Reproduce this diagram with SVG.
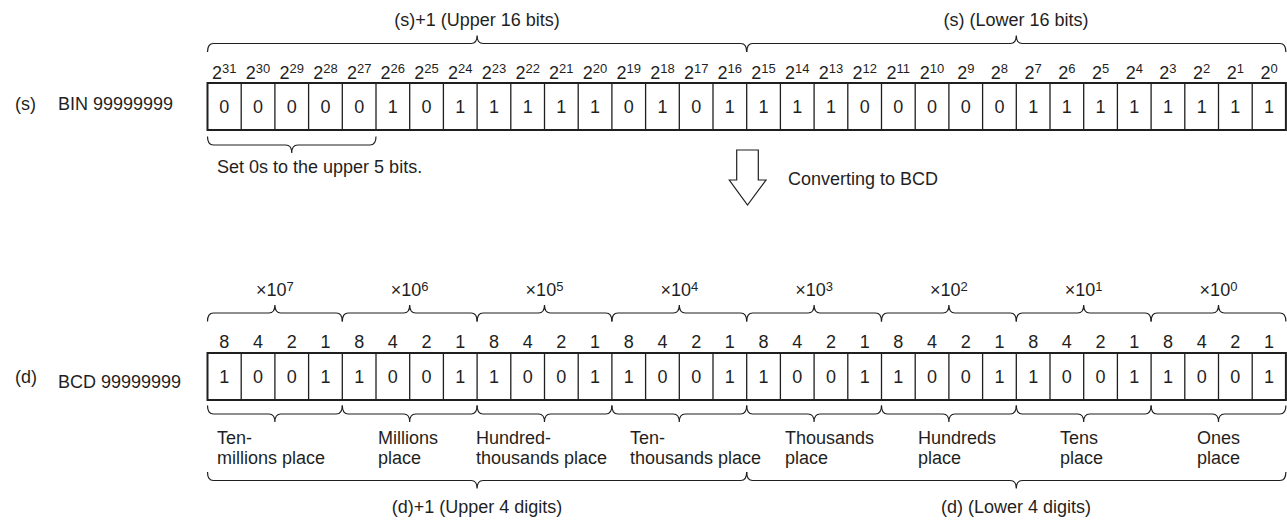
<svg xmlns="http://www.w3.org/2000/svg" xmlns:xlink="http://www.w3.org/1999/xlink" width="1287" height="520" viewBox="0 0 1287 520">
<style>
.t{font-family:"Liberation Sans",Arial,sans-serif;font-size:18px;fill:#1f1f1f}
.c{text-anchor:middle}
.s{font-size:13px}
.cell{fill:none;stroke:#1f1f1f;stroke-width:1.3}
.box{fill:none;stroke:#1f1f1f;stroke-width:2}
.br{fill:none;stroke:#1f1f1f;stroke-width:1.2}
</style>
<defs>
<path id="div" d="M241.2 0V47M274.9 0V47M308.6 0V47M342.3 0V47M376 0V47M409.7 0V47M443.4 0V47M477.1 0V47M510.8 0V47M544.5 0V47M578.2 0V47M611.9 0V47M645.6 0V47M679.3 0V47M713 0V47M746.7 0V47M780.4 0V47M814.1 0V47M847.8 0V47M881.5 0V47M915.2 0V47M948.9 0V47M982.6 0V47M1016.3 0V47M1050 0V47M1083.7 0V47M1117.4 0V47M1151.1 0V47M1184.8 0V47M1218.5 0V47M1252.2 0V47"/>
<path id="b4" d="M0 8.5Q0 0 6 0H61.4Q67.4 0 67.4 -8Q67.4 0 73.4 0H128.8Q134.8 0 134.8 8.5"/>
<path id="b16" d="M0 8.5Q0 0 6 0H263.6Q269.6 0 269.6 -8Q269.6 0 275.6 0H533.2Q539.2 0 539.2 8.5"/>
<path id="b5" d="M0 8.5Q0 0 6 0H78.25Q84.25 0 84.25 -8Q84.25 0 90.25 0H162.5Q168.5 0 168.5 8.5"/>
</defs>

<g id="labels-left" class="t">
<text x="15" y="110">(s)</text>
<text x="58" y="110">BIN 99999999</text>
<text x="15" y="383">(d)</text>
<text x="58" y="388">BCD 99999999</text>
</g>

<g id="src-word-labels" class="t c">
<text x="477" y="26">(s)+1 (Upper 16 bits)</text>
<text x="1016" y="26">(s) (Lower 16 bits)</text>
</g>

<g id="src-braces" class="br">
<use xlink:href="#b16" transform="translate(207.5,43.5)"/>
<use xlink:href="#b16" transform="translate(746.7,43.5)"/>
<use xlink:href="#b5" transform="translate(207.5,145) scale(1,-1)"/>
</g>

<g id="src-bit-weights" class="t c">
<text x="224.35" y="79">2<tspan class="s" dy="-6">31</tspan></text>
<text x="258.05" y="79">2<tspan class="s" dy="-6">30</tspan></text>
<text x="291.75" y="79">2<tspan class="s" dy="-6">29</tspan></text>
<text x="325.45" y="79">2<tspan class="s" dy="-6">28</tspan></text>
<text x="359.15" y="79">2<tspan class="s" dy="-6">27</tspan></text>
<text x="392.85" y="79">2<tspan class="s" dy="-6">26</tspan></text>
<text x="426.55" y="79">2<tspan class="s" dy="-6">25</tspan></text>
<text x="460.25" y="79">2<tspan class="s" dy="-6">24</tspan></text>
<text x="493.95" y="79">2<tspan class="s" dy="-6">23</tspan></text>
<text x="527.65" y="79">2<tspan class="s" dy="-6">22</tspan></text>
<text x="561.35" y="79">2<tspan class="s" dy="-6">21</tspan></text>
<text x="595.05" y="79">2<tspan class="s" dy="-6">20</tspan></text>
<text x="628.75" y="79">2<tspan class="s" dy="-6">19</tspan></text>
<text x="662.45" y="79">2<tspan class="s" dy="-6">18</tspan></text>
<text x="696.15" y="79">2<tspan class="s" dy="-6">17</tspan></text>
<text x="729.85" y="79">2<tspan class="s" dy="-6">16</tspan></text>
<text x="763.55" y="79">2<tspan class="s" dy="-6">15</tspan></text>
<text x="797.25" y="79">2<tspan class="s" dy="-6">14</tspan></text>
<text x="830.95" y="79">2<tspan class="s" dy="-6">13</tspan></text>
<text x="864.65" y="79">2<tspan class="s" dy="-6">12</tspan></text>
<text x="898.35" y="79">2<tspan class="s" dy="-6">11</tspan></text>
<text x="932.05" y="79">2<tspan class="s" dy="-6">10</tspan></text>
<text x="965.75" y="79">2<tspan class="s" dy="-6">9</tspan></text>
<text x="999.45" y="79">2<tspan class="s" dy="-6">8</tspan></text>
<text x="1033.15" y="79">2<tspan class="s" dy="-6">7</tspan></text>
<text x="1066.85" y="79">2<tspan class="s" dy="-6">6</tspan></text>
<text x="1100.55" y="79">2<tspan class="s" dy="-6">5</tspan></text>
<text x="1134.25" y="79">2<tspan class="s" dy="-6">4</tspan></text>
<text x="1167.95" y="79">2<tspan class="s" dy="-6">3</tspan></text>
<text x="1201.65" y="79">2<tspan class="s" dy="-6">2</tspan></text>
<text x="1235.35" y="79">2<tspan class="s" dy="-6">1</tspan></text>
<text x="1269.05" y="79">2<tspan class="s" dy="-6">0</tspan></text>
</g>

<g id="src-register">
<use xlink:href="#div" class="cell" transform="translate(0,83)"/>
<rect class="box" x="207.5" y="83" width="1078.4" height="47"/>
<g class="t c">
<text x="224.35" y="113">0</text><text x="258.05" y="113">0</text><text x="291.75" y="113">0</text><text x="325.45" y="113">0</text>
<text x="359.15" y="113">0</text><text x="392.85" y="113">1</text><text x="426.55" y="113">0</text><text x="460.25" y="113">1</text>
<text x="493.95" y="113">1</text><text x="527.65" y="113">1</text><text x="561.35" y="113">1</text><text x="595.05" y="113">1</text>
<text x="628.75" y="113">0</text><text x="662.45" y="113">1</text><text x="696.15" y="113">0</text><text x="729.85" y="113">1</text>
<text x="763.55" y="113">1</text><text x="797.25" y="113">1</text><text x="830.95" y="113">1</text><text x="864.65" y="113">0</text>
<text x="898.35" y="113">0</text><text x="932.05" y="113">0</text><text x="965.75" y="113">0</text><text x="999.45" y="113">0</text>
<text x="1033.15" y="113">1</text><text x="1066.85" y="113">1</text><text x="1100.55" y="113">1</text><text x="1134.25" y="113">1</text>
<text x="1167.95" y="113">1</text><text x="1201.65" y="113">1</text><text x="1235.35" y="113">1</text><text x="1269.05" y="113">1</text>
</g>
</g>

<g id="note" class="t">
<text x="217" y="173">Set 0s to the upper 5 bits.</text>
</g>

<g id="connectors">
<polygon class="br" fill="#fff" points="736.7,150 758.3,150 758.3,180 766,180 747.5,205 729.3,180 736.7,180"/>
<text class="t" x="788" y="185">Converting to BCD</text>
</g>

<g id="dst-digit-labels" class="t c">
<text x="274.9" y="296">×10<tspan class="s" dy="-5">7</tspan></text>
<text x="409.7" y="296">×10<tspan class="s" dy="-5">6</tspan></text>
<text x="544.5" y="296">×10<tspan class="s" dy="-5">5</tspan></text>
<text x="679.3" y="296">×10<tspan class="s" dy="-5">4</tspan></text>
<text x="814.1" y="296">×10<tspan class="s" dy="-5">3</tspan></text>
<text x="948.9" y="296">×10<tspan class="s" dy="-5">2</tspan></text>
<text x="1083.7" y="296">×10<tspan class="s" dy="-5">1</tspan></text>
<text x="1218.5" y="296">×10<tspan class="s" dy="-5">0</tspan></text>
</g>

<g id="dst-braces" class="br">
<use xlink:href="#b4" transform="translate(207.5,313)"/>
<use xlink:href="#b4" transform="translate(342.3,313)"/>
<use xlink:href="#b4" transform="translate(477.1,313)"/>
<use xlink:href="#b4" transform="translate(611.9,313)"/>
<use xlink:href="#b4" transform="translate(746.7,313)"/>
<use xlink:href="#b4" transform="translate(881.5,313)"/>
<use xlink:href="#b4" transform="translate(1016.3,313)"/>
<use xlink:href="#b4" transform="translate(1151.1,313)"/>
<use xlink:href="#b4" transform="translate(207.5,414) scale(1,-1)"/>
<use xlink:href="#b4" transform="translate(342.3,414) scale(1,-1)"/>
<use xlink:href="#b4" transform="translate(477.1,414) scale(1,-1)"/>
<use xlink:href="#b4" transform="translate(611.9,414) scale(1,-1)"/>
<use xlink:href="#b4" transform="translate(746.7,414) scale(1,-1)"/>
<use xlink:href="#b4" transform="translate(881.5,414) scale(1,-1)"/>
<use xlink:href="#b4" transform="translate(1016.3,414) scale(1,-1)"/>
<use xlink:href="#b4" transform="translate(1151.1,414) scale(1,-1)"/>
<use xlink:href="#b16" transform="translate(207.5,480.5) scale(1,-1)"/>
<use xlink:href="#b16" transform="translate(746.7,480.5) scale(1,-1)"/>
</g>

<g id="dst-bit-weights" class="t c">
<text x="224.35" y="348">8</text><text x="258.05" y="348">4</text><text x="291.75" y="348">2</text><text x="325.45" y="348">1</text>
<text x="359.15" y="348">8</text><text x="392.85" y="348">4</text><text x="426.55" y="348">2</text><text x="460.25" y="348">1</text>
<text x="493.95" y="348">8</text><text x="527.65" y="348">4</text><text x="561.35" y="348">2</text><text x="595.05" y="348">1</text>
<text x="628.75" y="348">8</text><text x="662.45" y="348">4</text><text x="696.15" y="348">2</text><text x="729.85" y="348">1</text>
<text x="763.55" y="348">8</text><text x="797.25" y="348">4</text><text x="830.95" y="348">2</text><text x="864.65" y="348">1</text>
<text x="898.35" y="348">8</text><text x="932.05" y="348">4</text><text x="965.75" y="348">2</text><text x="999.45" y="348">1</text>
<text x="1033.15" y="348">8</text><text x="1066.85" y="348">4</text><text x="1100.55" y="348">2</text><text x="1134.25" y="348">1</text>
<text x="1167.95" y="348">8</text><text x="1201.65" y="348">4</text><text x="1235.35" y="348">2</text><text x="1269.05" y="348">1</text>
</g>

<g id="dst-register">
<use xlink:href="#div" class="cell" transform="translate(0,353)"/>
<rect class="box" x="207.5" y="353" width="1078.4" height="47"/>
<g class="t c">
<text x="224.35" y="383">1</text><text x="258.05" y="383">0</text><text x="291.75" y="383">0</text><text x="325.45" y="383">1</text>
<text x="359.15" y="383">1</text><text x="392.85" y="383">0</text><text x="426.55" y="383">0</text><text x="460.25" y="383">1</text>
<text x="493.95" y="383">1</text><text x="527.65" y="383">0</text><text x="561.35" y="383">0</text><text x="595.05" y="383">1</text>
<text x="628.75" y="383">1</text><text x="662.45" y="383">0</text><text x="696.15" y="383">0</text><text x="729.85" y="383">1</text>
<text x="763.55" y="383">1</text><text x="797.25" y="383">0</text><text x="830.95" y="383">0</text><text x="864.65" y="383">1</text>
<text x="898.35" y="383">1</text><text x="932.05" y="383">0</text><text x="965.75" y="383">0</text><text x="999.45" y="383">1</text>
<text x="1033.15" y="383">1</text><text x="1066.85" y="383">0</text><text x="1100.55" y="383">0</text><text x="1134.25" y="383">1</text>
<text x="1167.95" y="383">1</text><text x="1201.65" y="383">0</text><text x="1235.35" y="383">0</text><text x="1269.05" y="383">1</text>
</g>
</g>

<g id="place-labels" class="t">
<text x="217" y="444">Ten-<tspan x="217" y="464">millions place</tspan></text>
<text x="378" y="444">Millions<tspan x="378" y="464">place</tspan></text>
<text x="476" y="444">Hundred-<tspan x="476" y="464">thousands place</tspan></text>
<text x="630" y="444">Ten-<tspan x="630" y="464">thousands place</tspan></text>
<text x="785" y="444">Thousands<tspan x="785" y="464">place</tspan></text>
<text x="918" y="444">Hundreds<tspan x="918" y="464">place</tspan></text>
<text x="1060" y="444">Tens<tspan x="1060" y="464">place</tspan></text>
<text x="1197" y="444">Ones<tspan x="1197" y="464">place</tspan></text>
</g>

<g id="dst-word-labels" class="t c">
<text x="477" y="513">(d)+1 (Upper 4 digits)</text>
<text x="1016" y="513">(d) (Lower 4 digits)</text>
</g>
</svg>
